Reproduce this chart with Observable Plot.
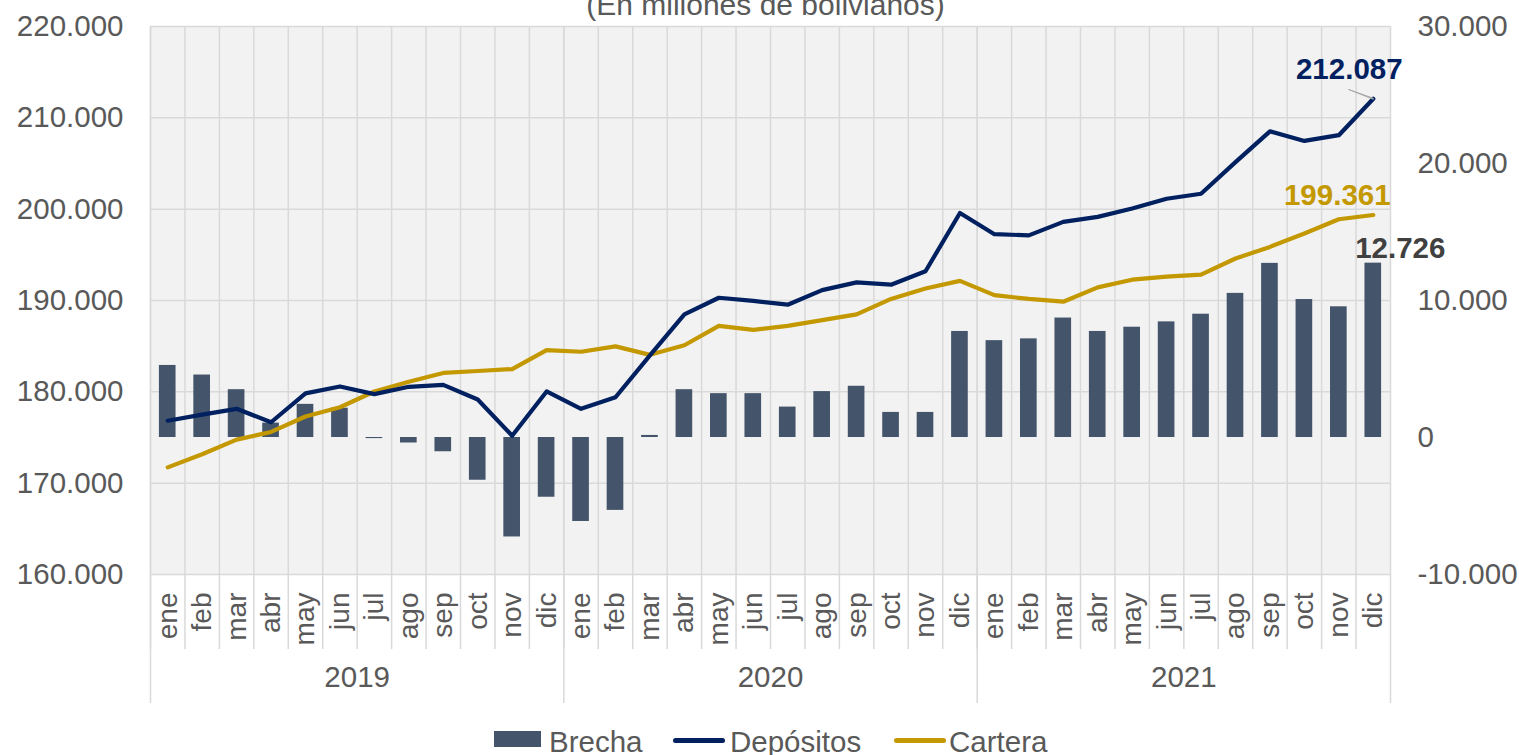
<!DOCTYPE html>
<html>
<head>
<meta charset="utf-8">
<script src="https://cdn.jsdelivr.net/npm/d3@7"></script>
<script src="https://cdn.jsdelivr.net/npm/@observablehq/plot@0.6"></script>
<style>
  html, body { margin: 0; padding: 0; background: white; overflow: hidden; }
  #wrap { position: relative; width: 1519px; height: 755px; font-family: "Liberation Sans", Arial, sans-serif; color: #595959; }
  #legend { position: relative; width: 1519px; height: 43px; }
  #legend .sw { position: absolute; }
  #legend .tx { position: absolute; top: 15px; font-size: 29.5px; line-height: 30px; white-space: nowrap; }
</style>
</head>
<body>
<div id="wrap">
  <div id="chart"></div>
  <div id="legend"></div>
</div>
<script>
// ---- Data (millones de bolivianos) ----
const years = [2019, 2020, 2021];
const months = ["ene","feb","mar","abr","may","jun","jul","ago","sep","oct","nov","dic"];
const depositos = [
  176840, 177500, 178140, 176670, 179830, 180590, 179750, 180550, 180760, 179160, 175190, 180040,
  178140, 179410, 184000, 188480, 190300, 189960, 189540, 191140, 191980, 191730, 193200, 199580,
  197260, 197130, 198610, 199160, 200080, 201140, 201690, 205150, 208520, 207470, 208100, 212087
];
const cartera = [
  171730, 173160, 174770, 175610, 177300, 178310, 180040, 181100, 182070, 182280, 182490, 184560,
  184390, 184980, 184050, 185100, 187220, 186790, 187220, 187850, 188480, 190170, 191310, 192150,
  190590, 190170, 189870, 191440, 192280, 192620, 192830, 194600, 195870, 197340, 198900, 199361
];
const brecha = [
  5260, 4560, 3490, 1050, 2420, 2140, -80, -400, -1040, -3120, -7260, -4360,
  -6130, -5320, 150, 3490, 3200, 3200, 2220, 3350, 3740, 1830, 1830, 7740,
  7070, 7200, 8720, 7740, 8050, 8440, 9000, 10520, 12710, 10070, 9540, 12726
];
const leftTicks = [160000, 170000, 180000, 190000, 200000, 210000, 220000];
const rightTicks = [-10000, 0, 10000, 20000, 30000];
const subtitle = "(En millones de bolivianos)";
const seriesNames = ["Brecha", "Depósitos", "Cartera"];
const colors = { Brecha: "#44546A", "Depósitos": "#002060", Cartera: "#C39800" };

// ---- Table ----
const data = [];
years.forEach((yr, yi) => months.forEach((m, mi) => {
  const i = yi * 12 + mi;
  data.push({ key: `${yr}-${m}`, year: yr, month: m, dep: depositos[i], car: cartera[i], bre: brecha[i] });
}));
const keys = data.map(d => d.key);
const last = data[data.length - 1];

// right axis (brecha) mapped onto left axis domain
const L0 = 160000, L1 = 220000, R0 = -10000, R1 = 30000;
const k = (L1 - L0) / (R1 - R0);
const toLeft = v => L0 + (v - R0) * k;
const fromLeft = v => Math.round((v - L0) / k + R0);
const fmt = v => d3.format(",")(Math.round(v)).replace(/,/g, ".").replace("\u2212", "-");

const W = 1519, H = 712;
const mL = 150, mR = 129, mT = 26, mB = 138;
const bw = (W - mL - mR) / keys.length;
const font = "Liberation Sans, Arial, sans-serif";
const grid = "#D9D9D9";

const chart = Plot.plot({
  width: W, height: H,
  marginLeft: mL, marginRight: mR, marginTop: mT, marginBottom: mB,
  style: { fontFamily: font, fontSize: "29px", color: "#595959", background: "white", overflow: "visible" },
  x: { type: "band", domain: keys, padding: 0, round: false, axis: null },
  y: { domain: [L0, L1], axis: null },
  marks: [
    Plot.frame({ fill: "#F2F2F2", stroke: null }),
    Plot.ruleY(leftTicks, { stroke: grid, strokeWidth: 1.5 }),
    // month separators (extend into label area)
    Plot.ruleX(keys, { stroke: grid, strokeWidth: 1.5, dx: -bw / 2, insetBottom: -75 }),
    // year separators
    Plot.ruleX(data.filter(d => d.month === "ene"), { x: "key", stroke: grid, strokeWidth: 1.5, dx: -bw / 2, insetBottom: -129 }),
    Plot.ruleX([last], { x: "key", stroke: grid, strokeWidth: 1.5, dx: bw / 2, insetBottom: -129 }),
    // bars
    Plot.barY(data, { x: "key", y1: () => toLeft(0), y2: d => toLeft(d.bre), fill: colors.Brecha, insetLeft: 8.9, insetRight: 8.9 }),
    // lines
    Plot.lineY(data, { x: "key", y: "car", stroke: colors.Cartera, strokeWidth: 4.2 }),
    Plot.lineY(data, { x: "key", y: "dep", stroke: colors["Depósitos"], strokeWidth: 4.2 }),
    // axes
    Plot.axisY(leftTicks, { anchor: "left", tickSize: 0, tickPadding: 27, tickFormat: fmt, fontSize: 29.5, fill: "#595959" }),
    Plot.axisY(rightTicks.map(toLeft), { anchor: "right", tickSize: 0, tickPadding: 27, tickFormat: d => fmt(fromLeft(d)), fontSize: 29.5, fill: "#595959" }),
    Plot.axisX(keys, { anchor: "bottom", tickSize: 0, tickPadding: 18, tickRotate: -90, tickFormat: d => d.split("-")[1], fontSize: 28, fill: "#595959", label: null }),
    // year labels
    Plot.text(years, { x: y => `${y}-jul`, frameAnchor: "bottom", dx: -bw / 2, dy: 112, text: y => String(y), fontSize: 29.5, fill: "#595959" }),
    // subtitle (partially cut at top)
    Plot.text([subtitle], { frameAnchor: "top", dx: -5, dy: -33, text: d => d, fontSize: 30, fill: "#595959" }),
    // data labels
    Plot.vector([last], { x: "key", y: "dep", length: 26.5, rotate: 290.6, anchor: "start", shape: "spike", r: 0.5, fill: "#A6A6A6", stroke: "#A6A6A6", strokeWidth: 0.8 }),
    Plot.text([last], { x: "key", y: "dep", text: d => fmt(d.dep), dx: -24, dy: -29, fontSize: 29.5, fontWeight: "bold", fill: colors["Depósitos"] }),
    Plot.text([last], { x: "key", y: "car", text: d => fmt(d.car), dx: -36, dy: -19, fontSize: 29.5, fontWeight: "bold", fill: colors.Cartera }),
    Plot.text([last], { x: "key", y: d => toLeft(d.bre), text: d => fmt(d.bre), dx: 27, dy: -15, fontSize: 29.5, fontWeight: "bold", fill: "#404040" })
  ]
});
document.getElementById("chart").appendChild(chart);

// ---- Legend ----
const legend = document.getElementById("legend");
const items = [
  { name: seriesNames[0], kind: "box", left: 494, tleft: 549 },
  { name: seriesNames[1], kind: "line", left: 673, tleft: 730 },
  { name: seriesNames[2], kind: "line", left: 894, tleft: 949 }
];
items.forEach(it => {
  const sw = document.createElement("div");
  sw.className = "sw";
  sw.style.left = it.left + "px";
  sw.style.background = colors[it.name];
  if (it.kind === "box") { sw.style.top = "19px"; sw.style.width = "47px"; sw.style.height = "16px"; }
  else { sw.style.top = "26px"; sw.style.width = "52px"; sw.style.height = "5px"; sw.style.borderRadius = "3px"; }
  legend.appendChild(sw);
  const tx = document.createElement("div");
  tx.className = "tx";
  tx.style.left = it.tleft + "px";
  tx.textContent = it.name;
  legend.appendChild(tx);
});
</script>
</body>
</html>
